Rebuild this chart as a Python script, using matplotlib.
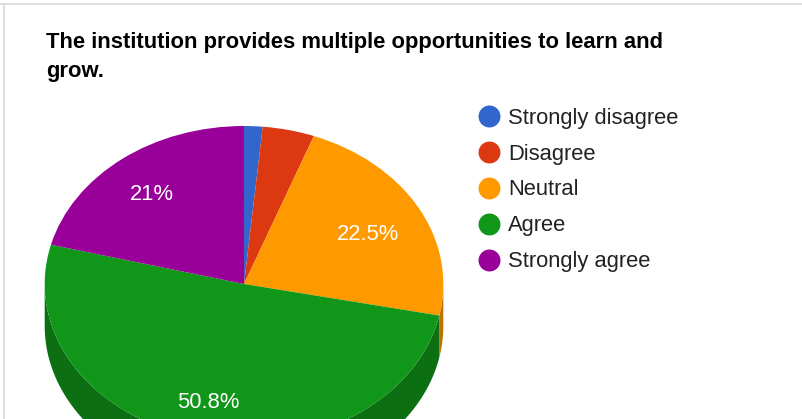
import numpy as np
import matplotlib
matplotlib.use("Agg")
import matplotlib.pyplot as plt
from matplotlib.lines import Line2D
from matplotlib.colors import to_rgb

categories = ["Strongly disagree", "Disagree", "Neutral", "Agree", "Strongly agree"]
values = [1.5, 4.2, 22.5, 50.8, 21.0]
colors = ["#3366cc", "#dc3912", "#ff9900", "#109618", "#990099"]
title = "The institution provides multiple opportunities to learn and\ngrow."

W, H = 802, 419
plt.rcParams["font.family"] = ["Liberation Sans", "DejaVu Sans"]

fig = plt.figure(figsize=(W / 100, H / 100), dpi=100)

# pie axes, pixels: center 244,284 rx 199.3 ry 158
cx, cy, rx, ry = 244, 284, 199.3, 158
ax = fig.add_axes([(cx - rx) / W, 1 - (cy + ry) / H, 2 * rx / W, 2 * ry / H])


def pct_label(p):
    return "" if p < 5 else f"{p:.3g}%"


wedges, texts, autotexts = ax.pie(values, colors=colors, startangle=90, counterclock=False,
                                  radius=1, autopct=pct_label, pctdistance=0.75,
                                  textprops={"color": "white", "fontsize": 15.8},
                                  wedgeprops={"zorder": 3})
ax.set_aspect("auto")
ax.set_xlim(-1, 1)
ax.set_ylim(-1, 1)
for w in wedges:
    w.set_clip_on(False)

# nudge labels, in pixels, google places them a bit differently
nudges = [(0, 0), (0, 0), (-7, -8), (-2, -3), (-1, -4)]
for t, (dx, dy) in zip(autotexts, nudges):
    x, y = t.get_position()
    t.set_position((x + dx / rx, y + dy / ry))
    t.set_zorder(5)

# side of the 3d pie, only the front half shows (clockwise angles run negative)
depth = 42 / ry
for w, c in zip(wedges, colors):
    a1, a2 = max(w.theta1, -180), min(w.theta2, 0)
    if a2 <= a1:
        continue
    t = np.radians(np.linspace(a1, a2, 200))
    xs = np.cos(t)
    ys = np.sin(t)
    dark = tuple(v * 0.74 for v in to_rgb(c))
    ax.fill(np.r_[xs, xs[::-1]], np.r_[ys, ys[::-1] - depth], color=dark, lw=0, clip_on=False, zorder=1)

# grey card border
fig.add_artist(Line2D([0, 1], [1 - 3.8 / H, 1 - 3.8 / H], color="#dadce0", lw=1.3))
fig.add_artist(Line2D([3.8 / W, 3.8 / W], [0, 1 - 3.8 / H], color="#dadce0", lw=1.3))

fig.text(46 / W, 1 - 32 / H, title, fontsize=15.85, fontweight="bold", color="#000000",
         va="top", ha="left", linespacing=1.47)

handles = [Line2D([], [], ls="", marker="o", ms=15.8, mfc=c, mec=c, mew=0) for c in colors]
fig.legend(handles, categories, loc="upper left", bbox_to_anchor=(465 / W, 1 - 101 / H),
           frameon=False, fontsize=15.8, labelcolor="#222222", handletextpad=0.05,
           labelspacing=0.68, borderpad=0.3, borderaxespad=0, handlelength=1.6)

fig.savefig("out.png", dpi=100)
